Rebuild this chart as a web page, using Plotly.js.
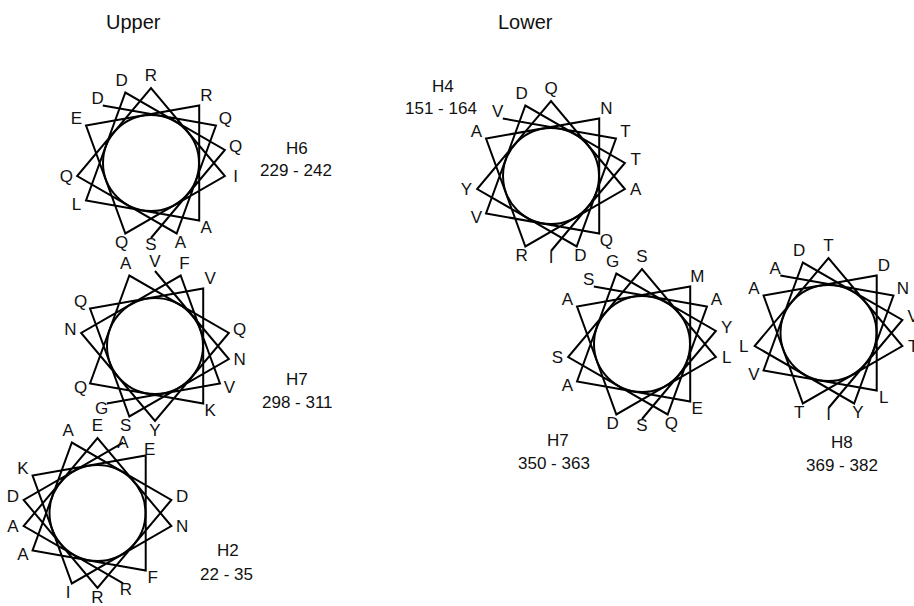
<!DOCTYPE html>
<html><head><meta charset="utf-8">
<script src="https://cdn.plot.ly/plotly-3.0.1.min.js"></script>
<style>html,body{margin:0;padding:0;background:#fff;} #chart{width:914px;height:606px;}</style>
</head><body><div id="chart"></div>
<script>
// ---- data ----
const groupTitles = ['Upper', 'Lower'];
const helixNames = ['H6', 'H7', 'H2', 'H4', 'H7', 'H8'];
const residueRanges = ['229 - 242', '298 - 311', '22 - 35', '151 - 164', '350 - 363', '369 - 382'];
const seqH6 = ['S','Q','D','L','A','R','E','Q','I','R','Q','A','Q','D'];
const seqH7upper = ['G','V','F','N','Y','Q','A','Q','K','V','Q','S','N','V'];
const seqH2 = ['A','D','R','D','A','A','F','E','K','I','N','E','A','R'];
const seqH4 = ['I','T','D','V','Q','N','A','R','A','Q','Y','D','T','V'];
const seqH7lower = ['S','Y','G','A','E','M','A','D','L','S','S','Q','A','S'];
const seqH8 = ['I','V','D','V','L','D','A','T','T','T','L','Y','N','A'];
const firstResidueAngle = [270, 230, 70, 270, 270, 270]; // degrees, first residue
const degPerResidue = 100;

// ---- layout (positions / sizes / styles) ----
const sequences = [seqH6, seqH7upper, seqH2, seqH4, seqH7lower, seqH8];
const wheelCx = [151, 155, 97.5, 551, 642, 828.5];
const wheelCy = [163, 346, 513, 176, 344, 333];
const vertexR = 75, innerR = 48, labelR = 86, endLabelR = 83;
const labelROverride = {'2-0': 74, '2-7': 81};   // H2 top labels sit tucked in
const nameX = [297, 297, 228, 443, 558, 842];
const nameY = [148, 379, 550, 86, 440, 442];
const rangeX = [296, 297, 226, 441, 554, 842];
const rangeY = [170, 402, 574, 108, 463, 465];
const titleX = [133, 525], titleY = [22, 22];
const FONT = 'Liberation Sans, Arial, sans-serif';
const LABEL_SIZE = 17;

const traces = [];
const shapes = [];
const annotations = [];

sequences.forEach((seq, w) => {
  const xs = [], ys = [], lx = [], ly = [];
  const n = seq.length;
  seq.forEach((res, k) => {
    const a = (firstResidueAngle[w] + degPerResidue * k) * Math.PI / 180;
    xs.push(wheelCx[w] + vertexR * Math.cos(a));
    ys.push(wheelCy[w] - vertexR * Math.sin(a));
    let lr = (k === 0 || k === n - 1) ? endLabelR : labelR;
    if (labelROverride[w + '-' + k] !== undefined) lr = labelROverride[w + '-' + k];
    lx.push(wheelCx[w] + lr * Math.cos(a));
    ly.push(wheelCy[w] - lr * Math.sin(a));
  });
  traces.push({x: xs, y: ys, mode: 'lines', type: 'scatter',
    line: {color: '#000', width: 2}, hoverinfo: 'skip'});
  traces.push({x: lx, y: ly, mode: 'text', type: 'scatter', text: seq,
    textposition: 'middle center', cliponaxis: false,
    textfont: {family: FONT, size: LABEL_SIZE, color: '#111'}, hoverinfo: 'skip'});
  shapes.push({type: 'circle', xref: 'x', yref: 'y',
    x0: wheelCx[w] - innerR, x1: wheelCx[w] + innerR,
    y0: wheelCy[w] - innerR, y1: wheelCy[w] + innerR,
    line: {color: '#000', width: 2}});
  annotations.push({x: nameX[w], y: nameY[w], text: helixNames[w], showarrow: false,
    xref: 'x', yref: 'y', font: {family: FONT, size: LABEL_SIZE, color: '#111'}});
  annotations.push({x: rangeX[w], y: rangeY[w], text: residueRanges[w], showarrow: false,
    xref: 'x', yref: 'y', font: {family: FONT, size: LABEL_SIZE, color: '#111'}});
});

groupTitles.forEach((t, i) => {
  annotations.push({x: titleX[i], y: titleY[i], text: t, showarrow: false,
    xref: 'x', yref: 'y', font: {family: FONT, size: 20, color: '#111'}});
});

const layout = {
  width: 914, height: 606,
  margin: {l: 0, r: 0, t: 0, b: 0},
  paper_bgcolor: '#fff', plot_bgcolor: '#fff',
  showlegend: false,
  xaxis: {range: [0, 914], visible: false, fixedrange: true},
  yaxis: {range: [606, 0], visible: false, fixedrange: true},
  shapes: shapes,
  annotations: annotations
};

Plotly.newPlot('chart', traces, layout, {staticPlot: true, displayModeBar: false});
</script>
</body></html>
